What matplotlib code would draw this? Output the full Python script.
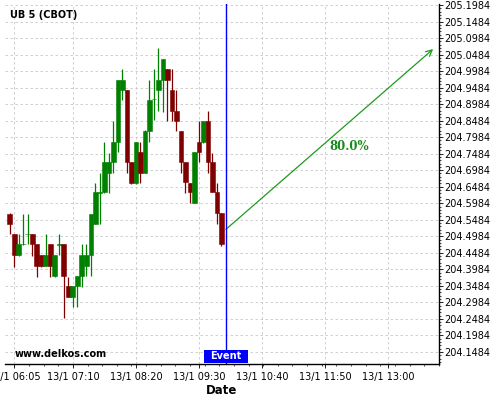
import pandas as pd
import matplotlib
matplotlib.use("Agg")
import matplotlib.pyplot as plt
import matplotlib.dates as mdates
from matplotlib.ticker import FixedLocator, AutoMinorLocator
from matplotlib.patches import Rectangle
import matplotlib.transforms as mtransforms

# 5-minute candles, 13/1 06:00 .. 09:55
times = pd.date_range("2025-01-13 06:00", periods=48, freq="5min")

opens = [204.566, 204.504, 204.442, 204.474, 204.504, 204.504, 204.474, 204.442,
         204.409, 204.474, 204.378, 204.473, 204.474, 204.348, 204.316, 204.348,
         204.378, 204.409, 204.442, 204.536, 204.630, 204.631, 204.691, 204.723,
         204.784, 204.941, 204.941, 204.723, 204.660, 204.754, 204.691, 204.817,
         204.913, 204.941, 204.971, 205.005, 204.941, 204.878, 204.817, 204.724,
         204.660, 204.599, 204.785, 204.785, 204.847, 204.724, 204.631, 204.569]
highs = [204.568, 204.504, 204.504, 204.566, 204.566, 204.504, 204.474, 204.442,
         204.504, 204.474, 204.442, 204.504, 204.474, 204.376, 204.348, 204.378,
         204.474, 204.474, 204.566, 204.660, 204.691, 204.785, 204.751, 204.847,
         204.971, 205.005, 204.941, 204.723, 204.784, 204.784, 204.820, 204.971,
         205.005, 205.068, 205.035, 205.005, 205.005, 204.941, 204.817, 204.724,
         204.660, 204.754, 204.847, 204.847, 204.878, 204.751, 204.660, 204.569]
lows = [204.504, 204.406, 204.440, 204.472, 204.474, 204.440, 204.376, 204.406,
        204.409, 204.376, 204.376, 204.442, 204.252, 204.316, 204.284, 204.284,
        204.346, 204.378, 204.378, 204.536, 204.536, 204.629, 204.629, 204.690,
        204.754, 204.911, 204.690, 204.657, 204.657, 204.660, 204.690, 204.785,
        204.850, 204.878, 204.876, 204.847, 204.847, 204.817, 204.690, 204.629,
        204.598, 204.598, 204.724, 204.782, 204.690, 204.631, 204.536, 204.470]
closes = [204.536, 204.442, 204.474, 204.476, 204.506, 204.474, 204.409, 204.409,
          204.442, 204.409, 204.442, 204.475, 204.378, 204.316, 204.348, 204.378,
          204.442, 204.442, 204.566, 204.631, 204.632, 204.723, 204.723, 204.784,
          204.971, 204.971, 204.724, 204.660, 204.784, 204.691, 204.817, 204.911,
          204.915, 204.971, 205.035, 204.971, 204.878, 204.847, 204.724, 204.662,
          204.631, 204.754, 204.754, 204.847, 204.724, 204.631, 204.569, 204.474]

event_time = pd.Timestamp("2025-01-13 10:00")
arrow_end_time = pd.Timestamp("2025-01-13 13:50")
arrow_start_price = 204.5195
arrow_end_price = 205.065
prob_label = "80.0%"
prob_time = pd.Timestamp("2025-01-13 12:17")
prob_price = 204.7716

xtick_times = pd.to_datetime(["2025-01-13 06:05", "2025-01-13 07:10", "2025-01-13 08:20",
                              "2025-01-13 09:30", "2025-01-13 10:40", "2025-01-13 11:50",
                              "2025-01-13 13:00"])
ytick_values = [204.1484 + 0.05 * k for k in range(22)]

up_color = "#008000"
down_color = "#800000"
arrow_color = "#1f9a1f"

fig = plt.figure(figsize=(5, 4), dpi=100)
ax = fig.add_axes([0.01, 0.09, 0.868, 0.9])

x = mdates.date2num(times)
width = 5.3 / 1440
for xi, o, h, l, c in zip(x, opens, highs, lows, closes):
    col = up_color if c >= o else down_color
    ax.vlines(xi, l, h, color=col, linewidth=0.9, zorder=2)
    ax.bar(xi, max(abs(c - o), 0.001), bottom=min(o, c), width=width,
           color=col, edgecolor=col, linewidth=0.4, zorder=3)

ev = mdates.date2num(event_time)
ax.axvline(ev, color="#0000ff", linewidth=1, zorder=4)

ax.annotate("", xy=(mdates.date2num(arrow_end_time), arrow_end_price),
            xytext=(ev, arrow_start_price),
            arrowprops=dict(arrowstyle="->", color=arrow_color, lw=0.9,
                            shrinkA=0, shrinkB=0, mutation_scale=11))
ax.text(mdates.date2num(prob_time), prob_price, prob_label, color="#168a16",
        fontsize=8.5, fontweight="bold", family="DejaVu Serif",
        ha="center", va="center")

# event label box at the bottom of the plot
trans = mtransforms.blended_transform_factory(ax.transData, ax.transAxes)
box_w = 48.9 / 1440
ax.add_patch(Rectangle((ev - box_w / 2, 0.003), box_w, 0.036, transform=trans,
                       facecolor="#0000ff", edgecolor="none", zorder=5))
ax.text(ev, 0.021, "Event", transform=trans, color="white", fontsize=7,
        fontweight="bold", ha="center", va="center", zorder=6)

xmin = pd.Timestamp("2025-01-13 05:54:38")
xmax = pd.Timestamp("2025-01-13 13:56:30")
ax.set_xlim(mdates.date2num(xmin), mdates.date2num(xmax))
ax.set_ylim(204.1118, 205.2014)

ax.xaxis.set_major_locator(FixedLocator(mdates.date2num(xtick_times)))
ax.xaxis.set_major_formatter(mdates.DateFormatter("%d/%-m %H:%M"))
ax.xaxis.set_minor_locator(AutoMinorLocator(4))
ax.yaxis.tick_right()
ax.yaxis.set_major_locator(FixedLocator(ytick_values))
ax.yaxis.set_major_formatter(plt.FormatStrFormatter("%.4f"))
ax.yaxis.set_minor_locator(AutoMinorLocator(5))
ax.tick_params(axis="both", which="major", labelsize=7, length=3, width=0.6, pad=1)
ax.tick_params(axis="x", which="major", pad=2.5)
ax.tick_params(axis="both", which="minor", length=1.5, width=0.5)

for side in ["left", "top"]:
    ax.spines[side].set_visible(False)
ax.spines["bottom"].set_linewidth(1)
ax.spines["right"].set_linewidth(1)

ax.grid(True, which="major", color="#c8c8c8", linestyle=(0, (3, 3)), linewidth=0.6)
ax.set_axisbelow(True)

ax.set_xlabel("Date", fontsize=8.5, fontweight="bold", labelpad=2)

fig.text(0.02, 0.9625, "UB 5 (CBOT)", fontsize=7, fontweight="bold", va="center")
fig.text(0.03, 0.115, "www.delkos.com", fontsize=7, fontweight="bold", va="center")

fig.savefig("out.png", dpi=100)
